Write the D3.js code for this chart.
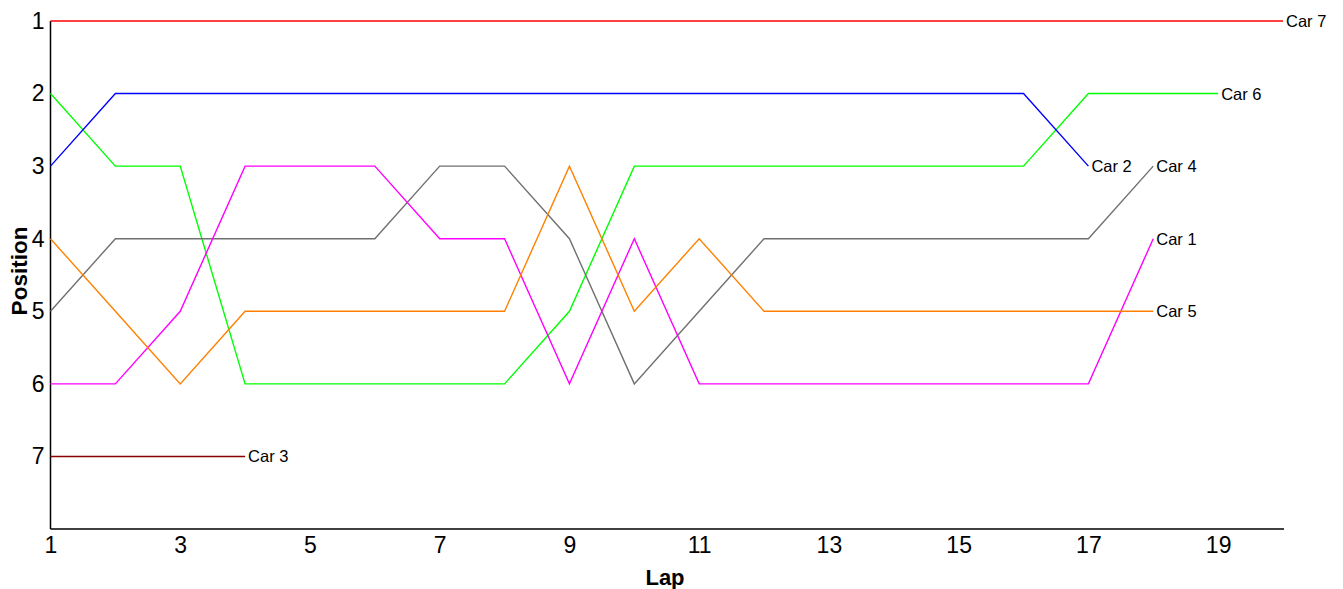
<!DOCTYPE html>
<html><head><meta charset="utf-8">
<script src="https://cdn.jsdelivr.net/npm/d3@7"></script>
<style>body{margin:0;background:#fff;}svg{display:block;font-family:"Liberation Sans",Arial,sans-serif;}</style>
</head><body>
<svg id="c" width="1343" height="589"></svg>
<script>
const laps = d3.range(1, 21);
const xTicks = [1,3,5,7,9,11,13,15,17,19];
const yTicks = [1,2,3,4,5,6,7];
const carNames = ["Car 7","Car 6","Car 2","Car 4","Car 1","Car 5","Car 3"];
const carColors = ["#ff0000","#00ff00","#0000ff","#707070","#ff00ff","#ff8000","#8b0000"];
const car7 = [1,1,1,1,1,1,1,1,1,1,1,1,1,1,1,1,1,1,1,1];
const car6 = [2,3,3,6,6,6,6,6,5,3,3,3,3,3,3,3,2,2,2];
const car2 = [3,2,2,2,2,2,2,2,2,2,2,2,2,2,2,2,3];
const car4 = [5,4,4,4,4,4,3,3,4,6,5,4,4,4,4,4,4,3];
const car1 = [6,6,5,3,3,3,4,4,6,4,6,6,6,6,6,6,6,4];
const car5 = [4,5,6,5,5,5,5,5,3,5,4,5,5,5,5,5,5,5];
const car3 = [7,7,7,7];
const carValues = [car7,car6,car2,car4,car1,car5,car3];

const svg = d3.select("#c");
const x = d3.scaleLinear().domain([1,20]).range([50.5,1283]);
const y = d3.scaleLinear().domain([1,8]).range([21,529]);

const xa = svg.append("g").attr("transform","translate(0,529)")
  .call(d3.axisBottom(x).tickValues(xTicks).tickSize(0).tickPadding(8).tickFormat(d3.format("d")));
const ya = svg.append("g").attr("transform","translate(50.5,0)")
  .call(d3.axisLeft(y).tickValues(yTicks).tickSize(0).tickPadding(6).tickFormat(d3.format("d")));
[xa,ya].forEach(a=>{
  a.select(".domain").attr("stroke","#000").attr("stroke-width",1.5);
  a.selectAll("text").attr("font-size",23).attr("fill","#000").attr("font-family","Liberation Sans, Arial, sans-serif");
});
ya.select(".domain").attr("d","M0,21V529");
xa.select(".domain").attr("d","M50.5,0H1284");

const line = d3.line().x((d,i)=>x(laps[i])).y(d=>y(d));
carValues.forEach((vals,k)=>{
  svg.append("path").attr("d",line(vals)).attr("fill","none")
    .attr("stroke",carColors[k]).attr("stroke-width",1.4);
  const n = vals.length;
  svg.append("text").attr("x",x(laps[n-1])+3).attr("y",y(vals[n-1]))
    .attr("dy","0.36em").attr("font-size",16.5).attr("fill","#000").text(carNames[k]);
});

svg.append("text").attr("x",665).attr("y",585).attr("text-anchor","middle")
  .attr("font-size",22).attr("font-weight","bold").text("Lap");
svg.append("text").attr("transform","translate(27,271) rotate(-90)").attr("text-anchor","middle")
  .attr("font-size",22.5).attr("font-weight","bold").text("Position");
</script>
</body></html>
